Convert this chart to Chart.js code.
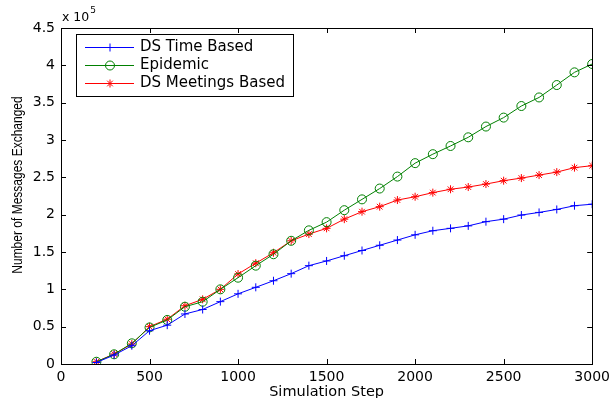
<!DOCTYPE html>
<html>
<head>
<meta charset="utf-8">
<script src="https://cdn.jsdelivr.net/npm/chart.js"></script>
<style>
html,body{margin:0;padding:0;background:#fff;}
canvas{display:block;}
</style>
</head>
<body>
<canvas id="c" width="615" height="398"></canvas>
<script>
const steps = [200,300,400,500,600,700,800,900,1000,1100,1200,1300,1400,1500,1600,1700,1800,1900,2000,2100,2200,2300,2400,2500,2600,2700,2800,2900,3000];
const dsTimeBased = [2000,12000,24500,44600,52000,67000,73000,83500,94000,102700,111500,121000,131700,138000,145000,152000,159000,166000,173000,178500,181700,185000,190600,194000,199500,203000,207000,212000,214000];
const epidemic = [3000,13000,27700,49000,59000,76700,83400,100000,115600,131700,147000,165000,179000,190000,206000,220500,235000,251000,269000,281000,292000,303600,318000,330000,345500,357000,373600,390600,401800];
const dsMeetingsBased = [3000,13400,26800,50000,60000,78000,86600,100000,120500,135000,149000,165000,174000,181700,194000,204000,210700,219600,224000,229500,234000,237000,241000,245500,249000,253000,257000,263000,265600];
const seriesNames = ['DS Time Based','Epidemic','DS Meetings Based'];
const yTickValues = [0,50000,100000,150000,200000,250000,300000,350000,400000,450000];
const xTickValues = [0,500,1000,1500,2000,2500,3000];
const xTitle = 'Simulation Step';
const yTitle = 'Number of Messages Exchanged';

const pts = arr => arr.map((v,i)=>({x:steps[i], y:v}));
const FONT = '"DejaVu Sans", sans-serif';

function drawMarker(ctx, style, x, y, r, color){
  ctx.save();
  ctx.strokeStyle = color; ctx.lineWidth = 1;
  ctx.beginPath();
  if(style==='cross'){
    ctx.moveTo(x-r,y); ctx.lineTo(x+r,y); ctx.moveTo(x,y-r); ctx.lineTo(x,y+r);
  } else if(style==='circle'){
    ctx.arc(x,y,r,0,Math.PI*2);
  } else if(style==='star'){
    ctx.moveTo(x-r,y); ctx.lineTo(x+r,y); ctx.moveTo(x,y-r); ctx.lineTo(x,y+r);
    const d=r*0.707;
    ctx.moveTo(x-d,y-d); ctx.lineTo(x+d,y+d); ctx.moveTo(x-d,y+d); ctx.lineTo(x+d,y-d);
  }
  ctx.stroke();
  ctx.restore();
}

const framePlugin = {
  id:'frame',
  afterDatasetsDraw(chart){
    const ctx = chart.ctx, a = chart.chartArea;
    const xs = chart.scales.x, ys = chart.scales.y;
    ctx.save();
    ctx.strokeStyle = '#000'; ctx.lineWidth = 1;
    ctx.strokeRect(Math.round(a.left)+0.5, Math.round(a.top)+0.5, Math.round(a.right-a.left), Math.round(a.bottom-a.top));
    const L = 5;
    ctx.beginPath();
    xs.ticks.forEach(t=>{
      const px = Math.round(xs.getPixelForValue(t.value))+0.5;
      ctx.moveTo(px, a.bottom); ctx.lineTo(px, a.bottom-L);
      ctx.moveTo(px, a.top); ctx.lineTo(px, a.top+L);
    });
    ys.ticks.forEach(t=>{
      const py = Math.round(ys.getPixelForValue(t.value))+0.5;
      ctx.moveTo(a.left, py); ctx.lineTo(a.left+L, py);
      ctx.moveTo(a.right, py); ctx.lineTo(a.right-L, py);
    });
    ctx.stroke();
    // exponent label
    ctx.fillStyle = '#000';
    ctx.textBaseline = 'alphabetic';
    ctx.font = '12.5px ' + FONT;
    ctx.fillText('x 10', a.left+1, a.top-7);
    const w = ctx.measureText('x 10').width;
    ctx.font = '9px ' + FONT;
    ctx.fillText('5', a.left+1+w+1, a.top-15);
    // y title
    ctx.save();
    ctx.translate(18, (a.top+a.bottom)/2 - 11);
    ctx.rotate(-Math.PI/2);
    ctx.scale(1, 1.2);
    ctx.font = '12px "Liberation Sans", Arial, sans-serif';
    ctx.textAlign = 'center';
    ctx.textBaseline = 'middle';
    ctx.fillText(yTitle, 0, 0);
    ctx.restore();
    // legend
    const bx=76, by=34, bw=217, bh=62;
    ctx.fillStyle='#fff';
    ctx.fillRect(bx,by,bw,bh);
    ctx.strokeStyle='#000';
    ctx.strokeRect(bx+0.5,by+0.5,bw,bh);
    ctx.font = '15px ' + FONT;
    ctx.textBaseline = 'middle';
    chart.data.datasets.forEach((ds,i)=>{
      const ry = by + 13 + i*18 + 0.5;
      ctx.strokeStyle = ds.borderColor; ctx.lineWidth = 1;
      ctx.beginPath(); ctx.moveTo(bx+9, ry); ctx.lineTo(bx+58, ry); ctx.stroke();
      drawMarker(ctx, ds.pointStyle, bx+34, ry, ds.pointRadius, ds.borderColor);
      ctx.fillStyle = '#000';
      ctx.fillText(ds.label, bx+64, ry);
    });
    ctx.restore();
  }
};

const mk = (label, data, color, style, r) => ({
  label, data: pts(data), borderColor: color, backgroundColor: 'rgba(0,0,0,0)',
  pointBorderColor: color, pointBackgroundColor: 'rgba(0,0,0,0)',
  pointStyle: style, pointRadius: r, pointBorderWidth: 1, borderWidth: 1, tension: 0
});

new Chart(document.getElementById('c'), {
  type: 'line',
  data: {
    datasets: [
      mk(seriesNames[0], dsTimeBased, '#0000ff', 'cross', 4),
      mk(seriesNames[1], epidemic, '#008000', 'circle', 4.5),
      mk(seriesNames[2], dsMeetingsBased, '#ff0000', 'star', 4)
    ]
  },
  options: {
    responsive: false,
    animation: false,
    events: [],
    layout: { padding: { top: 28, right: 18, left: 0, bottom: 0 } },
    plugins: { legend: { display: false }, tooltip: { enabled: false } },
    scales: {
      x: {
        type: 'linear', min: 0, max: 3000,
        afterBuildTicks: s => { s.ticks = xTickValues.map(v=>({value:v})); },
        grid: { display: false, drawTicks: false },
        border: { display: true, color: '#000', width: 1 },
        ticks: { color: '#000', font: { family: FONT, size: 14 }, padding: 5, maxRotation: 0, autoSkip: false,
                 callback: v => String(v) },
        title: { display: true, text: xTitle, color: '#000', font: { family: FONT, size: 14.5 }, padding: { top: 0, bottom: -3 } },
        afterFit: s => { s.height = 34; }
      },
      y: {
        type: 'linear', min: 0, max: 450000,
        afterBuildTicks: s => { s.ticks = yTickValues.map(v=>({value:v})); },
        grid: { display: false, drawTicks: false },
        border: { display: true, color: '#000', width: 1 },
        ticks: { color: '#000', font: { family: FONT, size: 14 }, padding: 6, autoSkip: false,
                 callback: v => String(v/100000) },
        title: { display: false },
        afterFit: s => { s.width = 61; }
      }
    }
  },
  plugins: [framePlugin]
});
</script>
</body>
</html>
